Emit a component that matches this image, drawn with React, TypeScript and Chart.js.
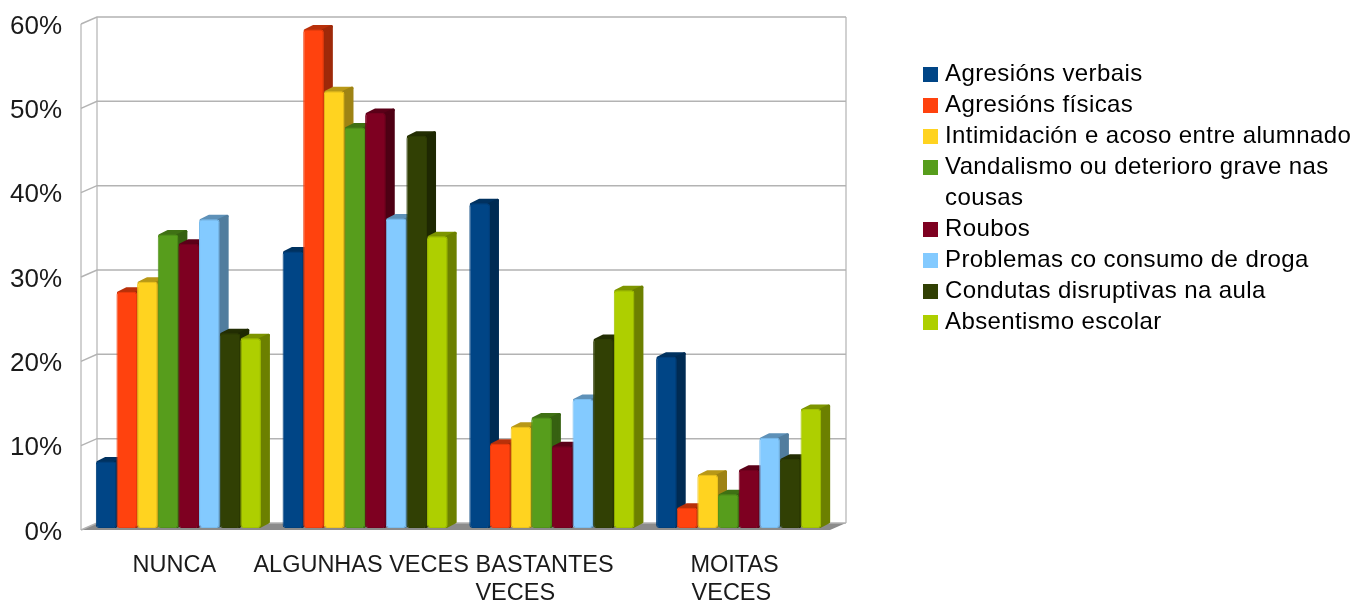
import React, { useEffect, useRef } from "react";
import { Chart, registerables } from "chart.js";

Chart.register(...registerables);

const categories: (string | string[])[] = [
  "NUNCA",
  "ALGUNHAS VECES",
  ["BASTANTES ", "VECES          "],
  ["MOITAS", "VECES "],
];
const seriesNames: string[][] = [
  ["Agresións verbais"],
  ["Agresións físicas"],
  ["Intimidación e acoso entre alumnado"],
  ["Vandalismo ou deterioro grave nas", "cousas"],
  ["Roubos"],
  ["Problemas co consumo de droga"],
  ["Condutas disruptivas na aula"],
  ["Absentismo escolar"],
];
const seriesColors = ["#004586", "#ff420e", "#ffd320", "#579d1c", "#7e0021", "#83caff", "#314004", "#aecf00"];

const agresionsVerbais = [7.9, 32.8, 38.5, 20.3];
const agresionsFisicas = [28.0, 59.1, 10.0, 2.4];
const intimidacion = [29.2, 51.8, 12.0, 6.3];
const vandalismo = [34.8, 47.5, 13.1, 4.0];
const roubos = [33.7, 49.2, 9.7, 6.9];
const consumoDroga = [36.6, 36.7, 15.3, 10.7];
const condutas = [23.1, 46.5, 22.4, 8.2];
const absentismo = [22.5, 34.6, 28.2, 14.1];
const seriesValues = [agresionsVerbais, agresionsFisicas, intimidacion, vandalismo, roubos, consumoDroga, condutas, absentismo];

const FONT = "'Liberation Sans', Arial, sans-serif";
const GRID = "#b3b3b3";

function shade(hex: string, f: number): string {
  const n = parseInt(hex.slice(1), 16);
  const r = Math.round(((n >> 16) & 255) * f);
  const g = Math.round(((n >> 8) & 255) * f);
  const b = Math.round((n & 255) * f);
  return `rgb(${r},${g},${b})`;
}

function swatch(color: string): HTMLCanvasElement {
  const c = document.createElement("canvas");
  c.width = 15;
  c.height = 15;
  const x = c.getContext("2d")!;
  x.fillStyle = color;
  x.fillRect(0, 0, 15, 15);
  return c;
}

const scene3d = {
  id: "scene3d",
  afterLayout(chart: any) {
    const lg = chart.legend;
    lg.left = 928;
    lg.right = 1356;
    lg.width = 1356 - 928;
    lg.top = 62.5;
    lg.bottom = 601;
    lg.height = 601 - 62.5;
    lg.draw = () => {
      chart.ctx.letterSpacing = "0.4px";
      lg._draw();
      chart.ctx.letterSpacing = "0px";
    };
  },
  beforeDatasetsDraw(chart: any) {
    const { ctx, chartArea: a, scales } = chart;
    const backX = 12, backY = -5, frontX = -4, frontY = 2;
    const rightBackX = 14, rightFrontX = -2;
    const depthX = 9, depthY = -4.5;
    const y = scales.y;
    ctx.save();
    // floor
    const y0 = y.getPixelForValue(0);
    ctx.fillStyle = "#8b8b8b";
    ctx.beginPath();
    ctx.moveTo(a.left + frontX, y0 + frontY);
    ctx.lineTo(a.left + backX, y0 + backY);
    ctx.lineTo(a.right + rightBackX, y0 + backY);
    ctx.lineTo(a.right + rightFrontX, y0 + frontY);
    ctx.closePath();
    ctx.fill();
    // walls
    ctx.strokeStyle = GRID;
    ctx.lineWidth = 1.5;
    y.ticks.forEach((t: any) => {
      const py = y.getPixelForValue(t.value);
      ctx.beginPath();
      ctx.moveTo(a.left + frontX, py + frontY);
      ctx.lineTo(a.left + backX, py + backY);
      ctx.lineTo(a.right + rightBackX, py + backY);
      ctx.stroke();
    });
    const top = y.getPixelForValue(60);
    ctx.lineWidth = 1.2;
    ctx.beginPath();
    ctx.moveTo(a.left + frontX, top + frontY);
    ctx.lineTo(a.left + frontX, y0 + frontY);
    ctx.moveTo(a.left + backX, top + backY);
    ctx.lineTo(a.left + backX, y0 + backY);
    ctx.moveTo(a.right + rightBackX, top + backY);
    ctx.lineTo(a.right + rightBackX, y0 + backY);
    ctx.stroke();
    // bar depth: side and top faces, taken from the bar elements
    chart.data.datasets.forEach((ds: any, i: number) => {
      const color = seriesColors[i];
      chart.getDatasetMeta(i).data.forEach((bar: any) => {
        const p = bar.getProps(["x", "y", "base", "width"], true);
        const l = p.x - p.width / 2;
        const r = p.x + p.width / 2;
        ctx.lineJoin = "round";
        ctx.lineWidth = 3;
        // top
        ctx.fillStyle = shade(color, 0.72);
        ctx.strokeStyle = ctx.fillStyle;
        ctx.beginPath();
        ctx.moveTo(l + 2, p.y + 1);
        ctx.lineTo(l + depthX + 1, p.y + depthY + 1.5);
        ctx.lineTo(r + depthX - 1.5, p.y + depthY + 1.5);
        ctx.lineTo(r - 1, p.y + 1);
        ctx.closePath();
        ctx.fill();
        ctx.stroke();
        // side
        ctx.fillStyle = shade(color, 0.62);
        ctx.strokeStyle = ctx.fillStyle;
        ctx.beginPath();
        ctx.moveTo(r - 1, p.y + 1);
        ctx.lineTo(r + depthX - 1.5, p.y + depthY + 1.5);
        ctx.lineTo(r + depthX - 1.5, p.base + depthY - 1.5);
        ctx.lineTo(r - 1, p.base - 1.5);
        ctx.closePath();
        ctx.fill();
        ctx.stroke();
      });
    });
    ctx.restore();
  },
};

export default function App() {
  const ref = useRef<HTMLCanvasElement>(null);
  useEffect(() => {
    const chart = new Chart(ref.current!, {
      type: "bar",
      data: {
        labels: categories as any,
        datasets: seriesValues.map((data, i) => ({
          label: seriesNames[i].join(" "),
          data,
          backgroundColor: seriesColors[i],
          borderColor: shade(seriesColors[i], 0.93),
          borderWidth: 1,
          borderRadius: 3,
          borderSkipped: false,
          barPercentage: 1,
          categoryPercentage: 0.884,
        })),
      },
      options: {
        animation: false,
        responsive: false,
        layout: { autoPadding: false, padding: { top: 22, right: 224, bottom: 0, left: 0 } },
        scales: {
          x: {
            border: { display: false },
            grid: { display: false },
            afterFit: (s: any) => { s.height = 73; s.paddingLeft = 0; s.paddingRight = 0; },
            ticks: {
              autoSkip: false,
              maxRotation: 0,
              minRotation: 0,
              padding: 16,
              labelOffset: -4,
              color: "#1a1a1a",
              font: { family: FONT, size: 23.5, lineHeight: 1.19 },
            },
          },
          y: {
            min: 0,
            max: 60,
            border: { display: false },
            grid: { display: false },
            afterFit: (s: any) => { s.width = 85; s.paddingTop = 0; s.paddingBottom = 0; },
            ticks: {
              stepSize: 10,
              padding: 15,
              labelOffset: 4.5,
              color: "#1a1a1a",
              font: { family: FONT, size: 26 },
              callback: (v: any) => `${v}%`,
            },
          },
        },
        plugins: {
          tooltip: { enabled: false },
          legend: {
            position: "right",
            align: "start",
            maxWidth: 300,
            labels: {
              padding: 0,
              usePointStyle: true,
              pointStyleWidth: 5,
              color: "#1a1a1a",
              font: { family: FONT, size: 24, lineHeight: "31px" },
              generateLabels: () =>
                seriesNames.map((name, i) => ({
                  text: name,
                  fillStyle: seriesColors[i],
                  strokeStyle: seriesColors[i],
                  lineWidth: 0,
                  hidden: false,
                  datasetIndex: i,
                  pointStyle: swatch(seriesColors[i]),
                })) as any,
            },
          },
        },
      } as any,
      plugins: [scene3d as any],
    });
    return () => chart.destroy();
  }, []);
  return (
    <div style={{ position: "absolute", left: 0, top: 0, width: 1356, height: 601 }}>
      <canvas ref={ref} width={1356} height={601} style={{ display: "block" }} />
    </div>
  );
}
